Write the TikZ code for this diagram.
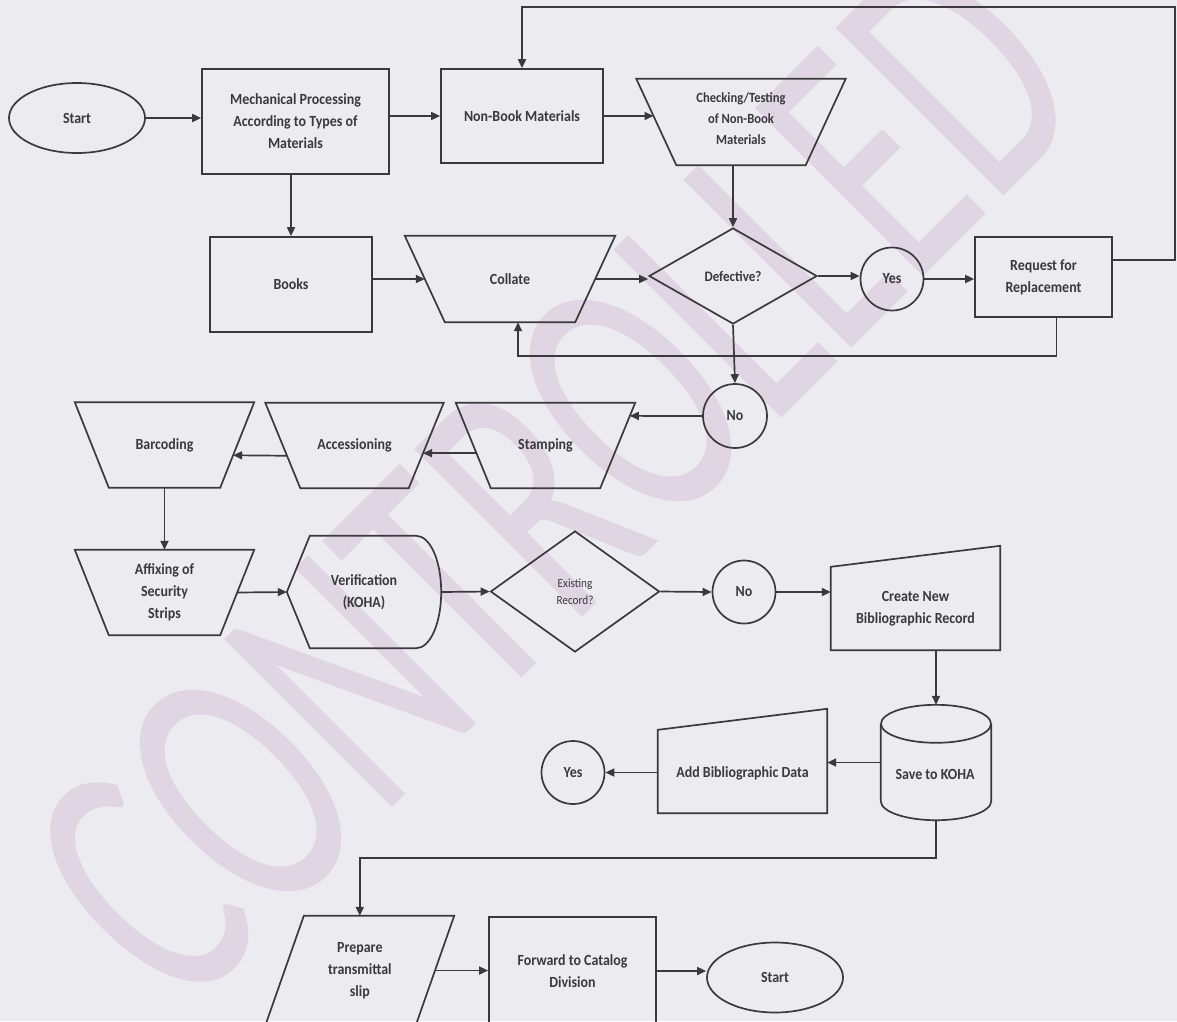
\documentclass[tikz,border=0pt]{standalone}
\usepackage{fontspec}
\setmainfont{Carlito}[FakeStretch=0.9]
\newfontfamily\wmfont{Carlito}
\usetikzlibrary{shapes.geometric,arrows.meta,calc}
\definecolor{paper}{RGB}{236,235,240}
\definecolor{ink}{RGB}{58,58,60}
\definecolor{wm}{RGB}{224,213,227}
\newcommand\fmain{\bfseries\fontsize{15.5}{22}\selectfont}
\newcommand\fsmall{\bfseries\fontsize{14}{21}\selectfont}
\newcommand\fdefect{\bfseries\fontsize{14.5}{20}\selectfont}
\newcommand\fexist{\fontsize{12.5}{17}\selectfont}
\begin{document}
\begin{tikzpicture}[x=1pt,y=-1pt,
  shp/.style={draw=ink, line width=1.7pt, text=ink, font=\fmain, align=center, inner sep=0pt},
  box/.style={shp, rectangle},
  hidden/.style={rectangle, inner sep=0pt, draw=none, text=ink, font=\fmain, align=center},
  oval/.style={shp, ellipse, minimum width=136pt, minimum height=70pt},
  ring/.style={shp, circle, minimum size=63pt},
  dia/.style={shp, diamond},
  link/.style={draw=ink, line width=1.7pt, line join=miter},
  arr/.style={link, -{Triangle[length=9pt,width=8pt]}}
]
\useasboundingbox (0,0) rectangle (1177,1021);
\clip (0,0) rectangle (1177,1021);
\fill[paper] (0,0) rectangle (1177,1021);

% watermark
\node[text=wm, inner sep=0pt, font=\wmfont\fontsize{370}{370}\selectfont, rotate=45] (mark) at (555,477) {\scalebox{0.64}[1]{CONTROLLED}};

% ---- row 1
\node[oval] (start1) at (77,118) {Start};
\node[box, minimum width=187pt, minimum height=105pt] (mech) at (295.5,121.5) {Mechanical Processing\\According to Types of\\Materials};
\node[box, minimum width=162pt, minimum height=94pt] (nonbook) at (522,116) {Non-Book Materials};
\node[hidden, minimum width=209pt, minimum height=86pt, font=\fsmall] (check) at (741,119) {Checking/Testing\\of Non-Book\\Materials};

% ---- row 2
\node[box, minimum width=162pt, minimum height=95pt] (books) at (291,284.5) {Books};
\node[hidden, minimum width=210pt, minimum height=86pt] (collate) at (510,279) {Collate};
\node[dia, minimum width=168pt, minimum height=96pt, font=\fdefect] (defect) at (733,276) {Defective?};
\node[ring] (yes1) at (892,279) {Yes};
\node[box, minimum width=137pt, minimum height=80pt] (request) at (1043.5,277) {Request for\\Replacement};

% ---- row 3
\node[ring, minimum size=64pt] (no1) at (735,416) {No};
\node[hidden, minimum width=179pt, minimum height=85pt] (stamp) at (545.5,445.5) {Stamping};
\node[hidden, minimum width=178pt, minimum height=85pt] (access) at (354.5,445.5) {Accessioning};
\node[hidden, minimum width=179pt, minimum height=85pt] (barcode) at (164.5,445) {Barcoding};

% ---- row 4
\node[hidden, minimum width=179pt, minimum height=85pt] (affix) at (164.5,592.5) {Affixing of\\Security\\Strips};
\node[hidden, minimum width=154pt, minimum height=112pt] (verif) at (364,592) {Verification\\(KOHA)};
\node[dia, minimum width=169pt, minimum height=121pt, font=\fexist] (exist) at (575,591.5) {Existing\\Record?};
\node[ring] (no2) at (744,592) {No};
\node[hidden, minimum width=169pt, minimum height=104pt] (create) at (915.5,598) {};
\node[hidden] (createtxt) at (915.5,608.5) {Create New\\Bibliographic Record};

% ---- row 5
\node[hidden, minimum width=110pt, minimum height=115pt] (save) at (936,762.5) {};
\node[hidden] (savetxt) at (935,774) {Save to KOHA};
\node[hidden, minimum width=169pt, minimum height=104pt] (add) at (742.5,761) {};
\node[hidden] (addtxt) at (742.5,773) {Add Bibliographic Data};
\node[ring] (yes2) at (573,772.5) {Yes};

% ---- row 6
\node[hidden, minimum width=188.4pt, minimum height=109pt] (prep) at (359.8,970.5) {Prepare\\transmittal\\slip};
\node[box, minimum width=167pt, minimum height=108pt] (fwd) at (572.5,971) {Forward to Catalog\\Division};
\node[oval] (start2) at (775,977.5) {Start};

% ---- outlines of the symbols drawn as paths
% manual operations (wide top, narrow bottom)
\draw[link] ([yshift=-3pt]check.north west) -- ([yshift=-3pt]check.north east) -- ([xshift=-40pt,yshift=-3pt]check.south east) -- ([xshift=40pt,yshift=-3pt]check.south west) -- cycle;
\draw[link] (collate.north west) -- (collate.north east) -- ([xshift=-40pt]collate.south east) -- ([xshift=40pt]collate.south west) -- cycle;
\draw[link] (stamp.north west) -- (stamp.north east) -- ([xshift=-35pt]stamp.south east) -- ([xshift=35pt]stamp.south west) -- cycle;
\draw[link] (access.north west) -- (access.north east) -- ([xshift=-35pt]access.south east) -- ([xshift=35pt]access.south west) -- cycle;
\draw[link] (barcode.north west) -- (barcode.north east) -- ([xshift=-34pt]barcode.south east) -- ([xshift=34pt]barcode.south west) -- cycle;
\draw[link] (affix.north west) -- (affix.north east) -- ([xshift=-34pt]affix.south east) -- ([xshift=34pt]affix.south west) -- cycle;
% display symbol
\draw[link] (verif.west) -- ([xshift=23pt]verif.north west) -- ([xshift=-25pt]verif.north east)
  .. controls ([xshift=-11pt]verif.north east) and ([yshift=-25pt]verif.north east) .. (verif.east)
  .. controls ([yshift=25pt]verif.south east) and ([xshift=-11pt]verif.south east) .. ([xshift=-25pt]verif.south east)
  -- ([xshift=23pt]verif.south west) -- cycle;
% manual inputs
\draw[link] (create.south west) -- (create.south east) -- (create.north east) -- ([yshift=-21pt]create.north west) -- cycle;
\draw[link] (add.south west) -- (add.south east) -- (add.north east) -- ([yshift=-21pt]add.north west) -- cycle;
% database cylinder
\draw[link] ([yshift=-19pt]save.north) ellipse [x radius=55pt, y radius=19pt];
\draw[link] ([yshift=-19pt]save.north west) -- ([yshift=19pt]save.south west)
  .. controls ([yshift=8.5pt]save.south west) and ([xshift=-30.4pt]save.south) .. (save.south)
  .. controls ([xshift=30.4pt]save.south) and ([yshift=8.5pt]save.south east) .. ([yshift=19pt]save.south east)
  -- ([yshift=-19pt]save.north east);
% data (parallelogram)
\draw[link] ([xshift=38.4pt]prep.north west) -- (prep.north east) -- ([xshift=-38.4pt]prep.south east) -- (prep.south west) -- cycle;

% ---- connectors
\draw[arr] (start1.east) -- (start1.east -| mech.west);
\draw[arr] (mech.east |- nonbook.west) -- (nonbook.west);
\draw[arr] (nonbook.east) -- ($(check.north west)!0.43!(check.south west)+(17.2,3)$);
\draw[arr] ([yshift=-3pt]defect.north |- check.south) -- (defect.north);
\draw[arr] (books.north |- mech.south) -- (books.north);
\draw[arr] (books.east |- collate.west) -- ($(collate.west)+(20,0)$);
\draw[arr] ($(collate.east)+(-20,0)$) -- (collate.east -| defect.west);
\draw[arr] (defect.east) -- (defect.east -| yes1.west);
\draw[arr] (yes1.east) -- (yes1.east -| request.west);
\draw[arr] ([yshift=17pt]request.east) -- (1175,260) -- (1175,7) -| (nonbook.north);
\draw[arr] ([xshift=13pt]request.south) -- ++(0,38) -| ([xshift=8pt]collate.south);
\draw[arr] (defect.south) -- (no1.north);
\draw[arr] (no1.west) -- ($(stamp.north east)!0.153!(stamp.south east)+(-5.4,0)$);
\draw[arr] ($(stamp.north west)!0.59!(stamp.south west)+(20.6,0)$) -- ($(access.north east)!0.59!(access.south east)+(-20.6,0)$);
\draw[arr] ($(access.north west)!0.62!(access.south west)+(21.7,0)$) -- ($(barcode.north east)!0.62!(barcode.south east)+(-21.1,0)$);
\draw[arr] (barcode.south) -- (affix.north);
\draw[arr] ($(affix.east)+(-17,0)$) -- (verif.west);
\draw[arr] (verif.east) -- (exist.west);
\draw[arr] (exist.east) -- (no2.west);
\draw[arr] (no2.east) -- (no2.east -| create.west);
\draw[arr] (save.north |- create.south) -- (save.north);
\draw[arr] (save.west) -- (save.west -| add.east);
\draw[arr] (add.west |- yes2.east) -- (yes2.east);
\draw[arr] (save.south) -- ++(0,38) -| (prep.north);
\draw[arr] ($(prep.east)+(-19.2,0)$) -- (prep.east -| fwd.west);
\draw[arr] (fwd.east) -- (fwd.east -| start2.west);
\end{tikzpicture}
\end{document}
